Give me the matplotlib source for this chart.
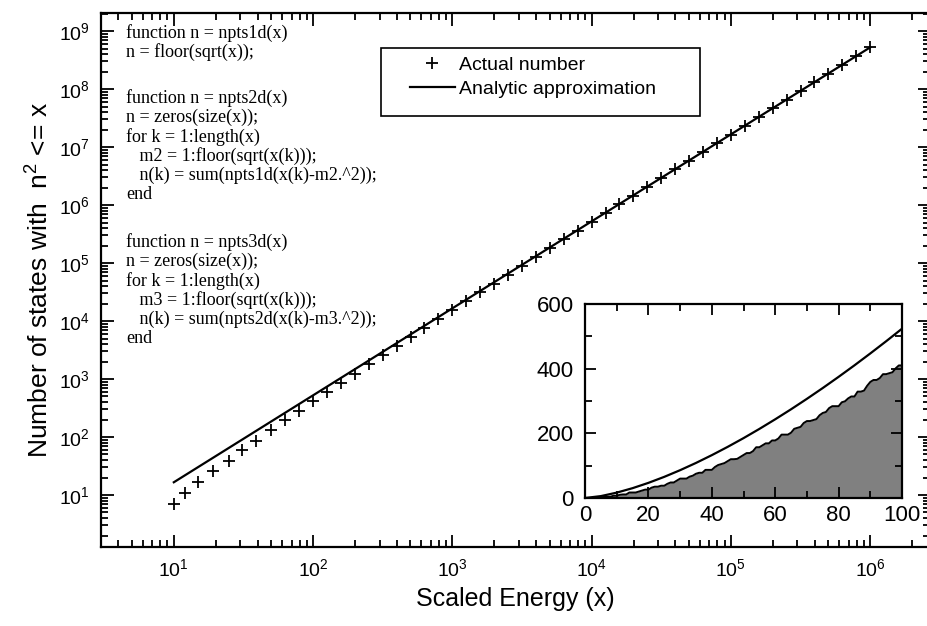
import matplotlib
matplotlib.use('Agg')
import matplotlib.pyplot as plt
from matplotlib.patches import Rectangle
from matplotlib.ticker import MultipleLocator

plt.rcParams['font.family'] = ['Liberation Sans', 'DejaVu Sans']
plt.rcParams['mathtext.fontset'] = 'custom'
plt.rcParams['mathtext.rm'] = 'Liberation Sans'
plt.rcParams['mathtext.it'] = 'Liberation Sans:italic'

# scaled energy values where the states were counted
energy = [10, 12, 15, 19, 25, 31, 39, 50, 63, 79,
          100, 125, 158, 199, 251, 316, 398, 501, 630, 794,
          1000, 1258, 1584, 1995, 2511, 3162, 3981, 5011, 6309, 7943,
          10000, 12589, 15848, 19952, 25118, 31622, 39810, 50118, 63095, 79432,
          100000, 125892, 158489, 199526, 251188, 316227, 398107, 501187, 630957, 794328,
          1000000]
actual = [7, 11, 17, 26, 38, 60, 87, 133, 196, 284,
          410, 593, 863, 1246, 1798, 2582, 3703, 5298, 7556, 10800,
          15400, 21900, 31200, 44300, 63000, 89400, 126900, 179900, 255000, 361400,
          511900, 724800, 1026000, 1452000, 2055000, 2907000, 4112000, 5816000, 8224000, 11630000,
          16440000, 23240000, 32850000, 46430000, 65620000, 92740000, 131100000, 185200000, 261700000, 369700000,
          522400000]

# analytic approximation (pi/6) x^1.5 read at the decades
approx_x = [10, 100, 1000, 10000, 100000, 1000000]
approx_y = [16.6, 524, 16560, 523600, 16560000, 523600000]

# inset: count for x = 0..100
inset_x = list(range(0, 101))
inset_n = [0, 0, 0, 1, 1, 1, 4, 4, 4, 7,
           7, 10, 11, 11, 17, 17, 17, 20, 23, 26,
           26, 32, 35, 35, 38, 38, 44, 48, 48, 54,
           60, 60, 60, 66, 69, 75, 78, 78, 87, 87,
           87, 96, 102, 105, 108, 114, 120, 120, 121, 127,
           133, 139, 139, 145, 157, 157, 163, 169, 169, 178,
           178, 184, 196, 196, 196, 202, 214, 217, 220, 232,
           238, 238, 241, 244, 256, 263, 266, 278, 284, 284,
           284, 296, 299, 308, 314, 314, 329, 329, 332, 347,
           359, 365, 365, 371, 383, 383, 386, 389, 401, 410,
           410]
curve_x = [0, 5, 10, 15, 20, 25, 30, 35, 40, 45, 50,
           55, 60, 65, 70, 75, 80, 85, 90, 95, 100]
curve_y = [0, 5.85, 16.6, 30.4, 46.8, 65.4, 86.0, 108.4, 132.5, 158.1, 185.1,
           213.6, 243.4, 274.4, 306.7, 340.1, 374.7, 410.3, 447.1, 484.8, 523.6]

code_blocks = [
    ["function n = npts1d(x)",
     "n = floor(sqrt(x));"],
    ["function n = npts2d(x)",
     "n = zeros(size(x));",
     "for k = 1:length(x)",
     "   m2 = 1:floor(sqrt(x(k)));",
     "   n(k) = sum(npts1d(x(k)-m2.^2));",
     "end"],
    ["function n = npts3d(x)",
     "n = zeros(size(x));",
     "for k = 1:length(x)",
     "   m3 = 1:floor(sqrt(x(k)));",
     "   n(k) = sum(npts2d(x(k)-m3.^2));",
     "end"],
]

W, H = 927, 626
fig = plt.figure(figsize=(W / 100, H / 100), dpi=100)

ax = fig.add_axes([101 / W, 1 - 547 / H, 829 / W, 534 / H])
ax.set_xscale('log')
ax.set_yscale('log')
ax.set_xlim(3, 2.69e6)
ax.set_ylim(1.27, 2.05e9)

hp, = ax.plot(energy, actual, '+', color='k', ms=9, mew=1.3, ls='none')
hl, = ax.plot(approx_x, approx_y, '-', color='k', lw=1.6)

for s in ax.spines.values():
    s.set_linewidth(1.6)
ax.tick_params(which='both', direction='in', top=True, right=True, width=1.3)
ax.tick_params(which='major', length=9, labelsize=14, pad=8)
ax.tick_params(which='minor', length=5)
ax.set_xlabel('Scaled Energy (x)', fontsize=18, labelpad=5)
ax.set_ylabel('Number of states with  n$^2$ <= x', fontsize=19, labelpad=4)

# code listing
ystart = [33, 98, 242]
for block, y0 in zip(code_blocks, ystart):
    for i, line in enumerate(block):
        fig.text(126 / W, 1 - (y0 + i * 19.3) / H, line, family='Liberation Serif',
                 fontsize=13, va='center', ha='left')

# legend
fig.patches.append(Rectangle((381 / W, 1 - 116 / H), 319 / W, 68 / H,
                             transform=fig.transFigure, fill=False,
                             edgecolor='k', lw=1.2))
leg = ax.legend([hp, hl], ['Actual number', 'Analytic approximation'],
                loc='upper left', bbox_to_anchor=(410 / W, 1 - 56 / H),
                bbox_transform=fig.transFigure, frameon=False, fontsize=14,
                handlelength=2.3, handletextpad=0.2, borderpad=0,
                borderaxespad=0, labelspacing=0.35)

# inset
ins = fig.add_axes([585 / W, 1 - 498 / H, 317 / W, 194 / H])
ins.set_facecolor('white')
ins.fill_between(inset_x, inset_n, color='#808080', lw=0)
ins.plot(inset_x, inset_n, color='k', lw=1.4)
ins.plot(curve_x, curve_y, '-', color='k', lw=1.6)
ins.set_xlim(0, 100)
ins.set_ylim(0, 600)
ins.xaxis.set_major_locator(MultipleLocator(20))
ins.xaxis.set_minor_locator(MultipleLocator(10))
ins.yaxis.set_major_locator(MultipleLocator(200))
ins.yaxis.set_minor_locator(MultipleLocator(100))
for s in ins.spines.values():
    s.set_linewidth(1.6)
ins.tick_params(which='both', direction='in', top=True, right=True, width=1.3)
ins.tick_params(which='major', length=8, labelsize=16, pad=5)
ins.tick_params(which='minor', length=5)
ins.tick_params(axis='y', pad=8)

fig.savefig('out.png', dpi=100)
